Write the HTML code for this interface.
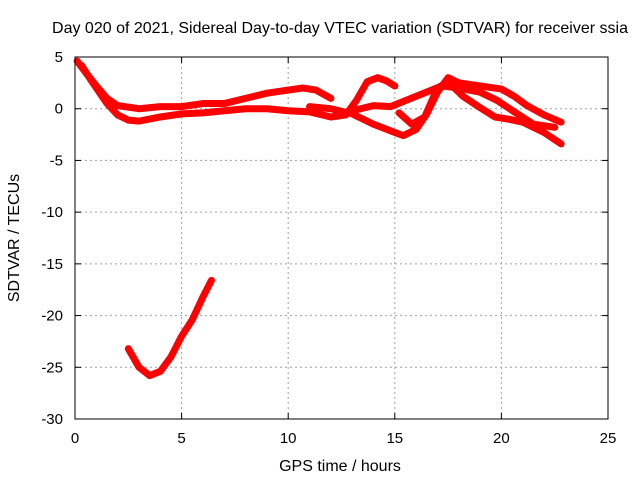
<!DOCTYPE html>
<html><head><meta charset="utf-8"><style>
body{margin:0;background:#fff}
svg text{font-family:"Liberation Sans",sans-serif;font-size:15px;fill:#000}
svg text.big{font-size:16px}
</style></head><body>
<svg id="c" width="640" height="480" xmlns="http://www.w3.org/2000/svg">
<rect width="640" height="480" fill="#fff"/>
<g id="grid"></g>
<g id="series"></g>
<rect x="75" y="57" width="533" height="362" fill="none" stroke="#000" stroke-width="1"/>
<g id="ticks"></g>
<text class="big" x="340" y="33" text-anchor="middle">Day 020 of 2021, Sidereal Day-to-day VTEC variation (SDTVAR) for receiver ssia</text>
<text class="big" x="340" y="471" text-anchor="middle">GPS time / hours</text>
<text class="big" x="0" y="0" text-anchor="middle" transform="translate(19,238) rotate(-90)">SDTVAR / TECUs</text>
</svg>
<script>
const xTicks=[0,5,10,15,20,25];
const yTicks=[5,0,-5,-10,-15,-20,-25,-30];
const trackA=[[0.1,4.6],[0.5,3.5],[1,2.2],[1.5,1],[2,0.3],[3,0],[4,0.2],[5,0.2],[6,0.5],[7,0.5],[8,1],[9,1.5],[10,1.8],[10.7,2],[11.3,1.8],[12,1.0]];
const trackB=[[0.3,4.2],[0.8,2.6],[1.5,0.5],[2,-0.6],[2.5,-1.1],[3,-1.2],[4,-0.8],[5,-0.5],[6,-0.4],[7,-0.2],[8,0],[9,0],[10,-0.2],[11,-0.3],[12,-0.8],[12.7,-0.6],[13.2,0.8],[13.7,2.6],[14.2,3],[14.6,2.7],[15,2.2]];
const trackC=[[11,0.2],[12,0],[13,-0.5],[14,-1.5],[15,-2.3],[15.4,-2.6],[16,-2],[16.5,-0.5],[17,1.6],[17.5,3],[18,2.5],[19,2.2],[20,1.9],[20.6,1.2],[21.2,0.3],[22,-0.6],[22.8,-1.3]];
const trackD=[[15.2,-0.4],[15.8,-1.5],[16.4,-0.8],[17,2],[17.5,2.6],[18.2,1.2],[19,0.1],[19.7,-0.8],[20.3,-1],[21,-1.3],[22,-2.3],[22.8,-3.4]];
const trackE=[[13,-0.2],[14,0.3],[14.8,0.2],[17.2,2.2],[18,2],[19,1.6],[19.8,0.8],[20.6,-0.3],[21.5,-1.5],[22.5,-1.8]];
const trackF=[[2.5,-23.2],[3,-25],[3.5,-25.8],[4,-25.4],[4.5,-24],[5,-22],[5.5,-20.4],[6,-18.2],[6.4,-16.6]];
const tracks=[trackA,trackB,trackC,trackD,trackE,trackF];
const X=h=>75+h*533/25, Y=v=>57+(5-v)*362/35;
const NS='http://www.w3.org/2000/svg';
const g=document.getElementById('grid'),t=document.getElementById('ticks'),s=document.getElementById('series');
function mk(tag,a,p){const e=document.createElementNS(NS,tag);for(const k in a)e.setAttribute(k,a[k]);p.appendChild(e);return e;}
xTicks.forEach(v=>{const x=X(v);
 if(v>0&&v<25){const l=mk('line',{x1:x,x2:x,y1:57,y2:419,stroke:'#a0a0a0','stroke-dasharray':'2,3'},g);}
 mk('line',{x1:x,x2:x,y1:419,y2:413,stroke:'#000'},t);mk('line',{x1:x,x2:x,y1:57,y2:63,stroke:'#000'},t);
 const tx=mk('text',{x:x,y:443,'text-anchor':'middle'},t);tx.textContent=v;
 });
yTicks.forEach(v=>{const y=Y(v);
 if(v<5&&v>-30){const l=mk('line',{x1:75,x2:608,y1:y,y2:y,stroke:'#a0a0a0','stroke-dasharray':'2,3'},g);}
 mk('line',{x1:75,x2:81,y1:y,y2:y,stroke:'#000'},t);mk('line',{x1:608,x2:602,y1:y,y2:y,stroke:'#000'},t);
 const tx=mk('text',{x:63,y:y+5,'text-anchor':'end'},t);tx.textContent=v;
 });
tracks.forEach(tr=>{const p=mk('polyline',{points:tr.map(d=>X(d[0])+','+Y(d[1])).join(' '),fill:'none',stroke:'#ff0000','stroke-width':7,'stroke-linejoin':'round','stroke-linecap':'round'},s);
 });
</script>
</body></html>
